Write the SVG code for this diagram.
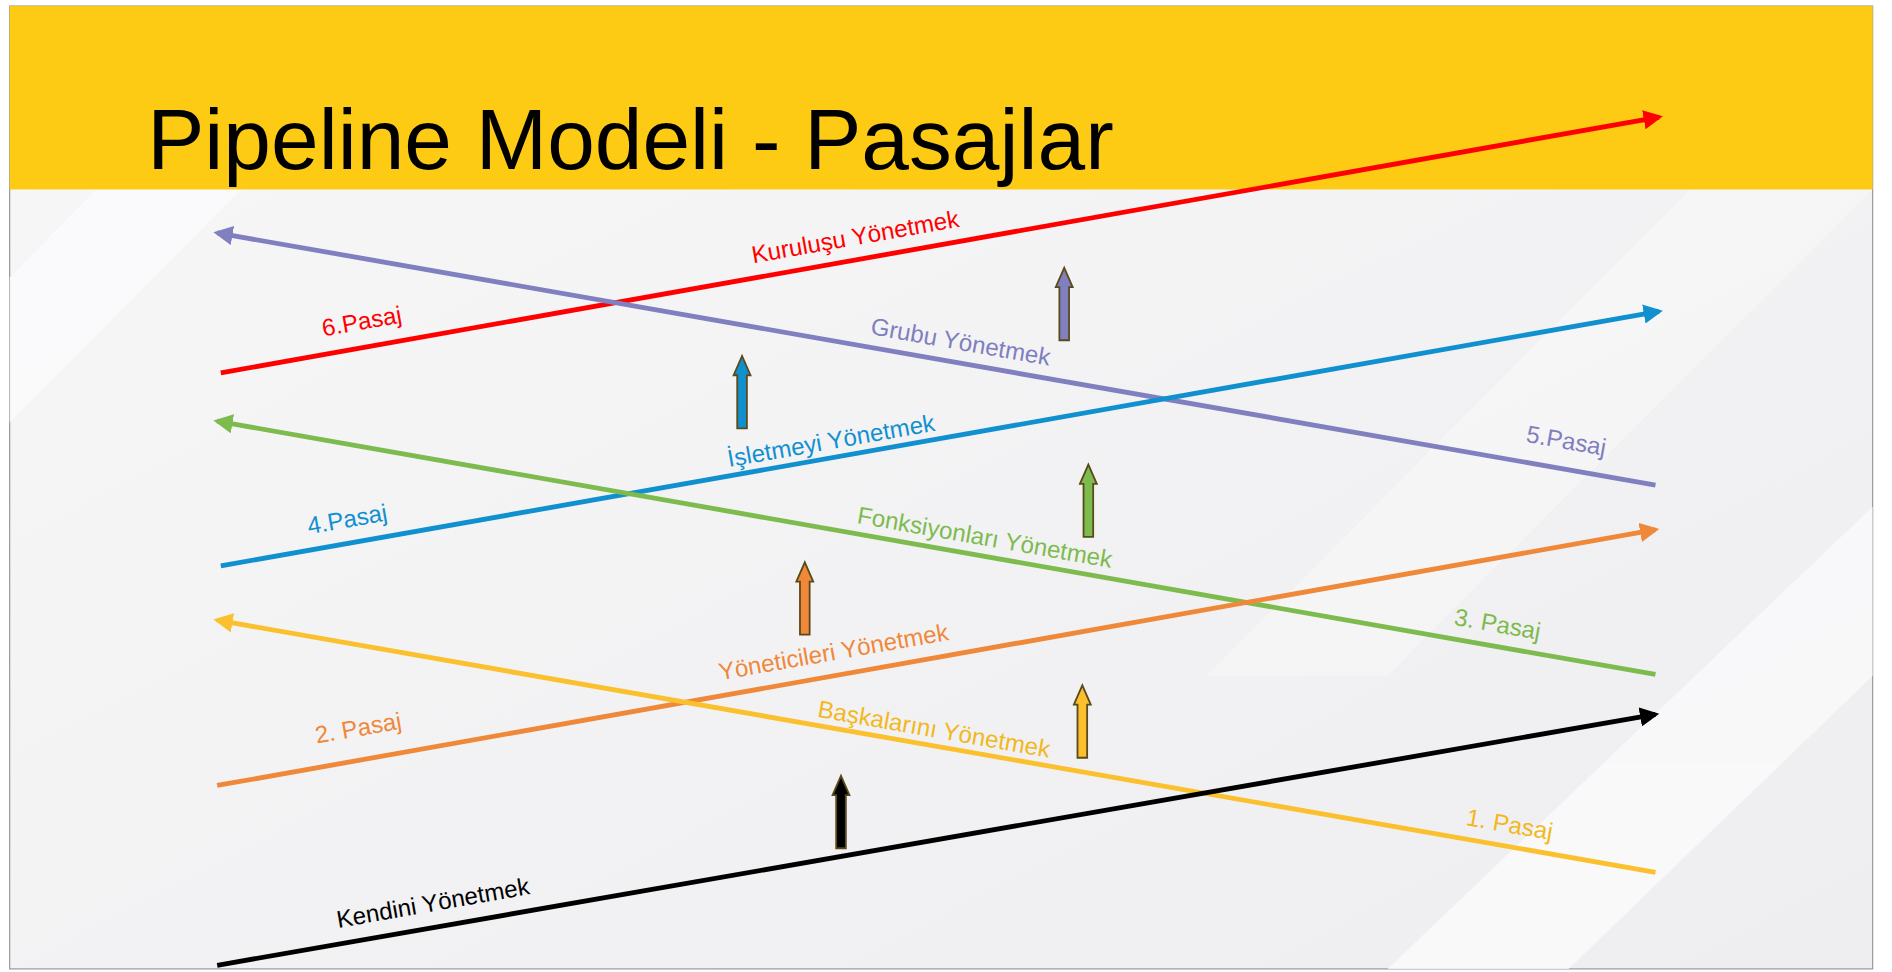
<svg xmlns="http://www.w3.org/2000/svg" width="1892" height="972" viewBox="0 0 1892 972">
<defs>
<style>
.l{stroke-width:4;fill:none}
.t{font-family:"Liberation Sans",Arial,sans-serif;font-size:20px;text-anchor:middle}
.ba{stroke:#5a4a1a;stroke-width:1.5}
</style>
<linearGradient id="bg" x1="0" y1="0" x2="1" y2="1"><stop offset="0" stop-color="#f7f7f8"/><stop offset="1" stop-color="#eeeef0"/></linearGradient>
<marker id="a" viewBox="0 0 10 10" refX="8" refY="5" markerWidth="4" markerHeight="4" orient="auto-start-reverse"><path d="M0,0L10,5L0,10z" fill="context-stroke"/></marker>
<path id="ua" d="M-4,60V16H-7L0,0L7,16H4V60Z"/>
</defs>
<rect width="1892" height="972" fill="#fff"/>
<g transform="scale(1.2066)">
<rect x="8" y="5" width="1544" height="798" fill="url(#bg)" stroke="#999"/>
<g fill="#fbfbfc" opacity="0.8">
<path d="M8,230L80,157H200L8,350Z"/><path d="M1150,803L1552,420V560L1300,803Z"/><path d="M1400,157H1552L1150,560H1000Z" opacity="0.5"/>
</g>
<rect x="8" y="5" width="1544" height="152" fill="#fdcb13"/>
<text x="122" y="140" font-family="Liberation Sans,Arial,sans-serif" font-size="71">Pipeline Modeli - Pasajlar</text>
<g id="connectors">
<line class="l" stroke="#f00" x1="183" y1="309" x2="1375" y2="97" marker-end="url(#a)"/>
<line class="l" stroke="#8080c0" x1="1372" y1="402" x2="180" y2="193" marker-end="url(#a)"/>
<line class="l" stroke="#1190d0" x1="183" y1="469" x2="1375" y2="258" marker-end="url(#a)"/>
<line class="l" stroke="#7dbb4f" x1="1372" y1="559" x2="180" y2="349" marker-end="url(#a)"/>
<line class="l" stroke="#f0883a" x1="180" y1="651" x2="1372" y2="439" marker-end="url(#a)"/>
<line class="l" stroke="#fbc02d" x1="1372" y1="723" x2="180" y2="514" marker-end="url(#a)"/>
<line class="l" stroke="#000" x1="180" y1="800" x2="1372" y2="592" marker-end="url(#a)"/>
</g>
<g id="labels" class="t">
<text transform="translate(301,273) rotate(-10)" fill="#f00">6.Pasaj</text>
<text transform="translate(710,203) rotate(-10)" fill="#f00">Kuruluşu Yönetmek</text>
<text transform="translate(795,290) rotate(10)" fill="#7f7fbf">Grubu Yönetmek</text>
<text transform="translate(1297,372) rotate(10)" fill="#7f7fbf">5.Pasaj</text>
<text transform="translate(289,437) rotate(-10)" fill="#1190d0">4.Pasaj</text>
<text transform="translate(690,372) rotate(-10)" fill="#1190d0">İşletmeyi Yönetmek</text>
<text transform="translate(815,452) rotate(10)" fill="#7dbb4f">Fonksiyonları Yönetmek</text>
<text transform="translate(1240,524) rotate(10)" fill="#7dbb4f">3. Pasaj</text>
<text transform="translate(298,610) rotate(-10)" fill="#f0883a">2. Pasaj</text>
<text transform="translate(692,547) rotate(-10)" fill="#f0883a">Yöneticileri Yönetmek</text>
<text transform="translate(773,611) rotate(10)" fill="#f2b81d">Başkalarını Yönetmek</text>
<text transform="translate(1250,690) rotate(10)" fill="#f2b81d">1. Pasaj</text>
<text transform="translate(360,755) rotate(-10)" fill="#000">Kendini Yönetmek</text>
</g>
<g id="up1" class="ba"><use href="#ua" x="882" y="222" fill="#8080c0"/></g>
<g id="up2" class="ba"><use href="#ua" x="615" y="295" fill="#1190d0"/></g>
<g id="up3" class="ba"><use href="#ua" x="902" y="385" fill="#7dbb4f"/></g>
<g id="up4" class="ba"><use href="#ua" x="667" y="466" fill="#f0883a"/></g>
<g id="up5" class="ba"><use href="#ua" x="897" y="568" fill="#fbc02d"/></g>
<g id="up6" class="ba"><use href="#ua" x="697" y="643" fill="#000"/></g>
</g>
</svg>
